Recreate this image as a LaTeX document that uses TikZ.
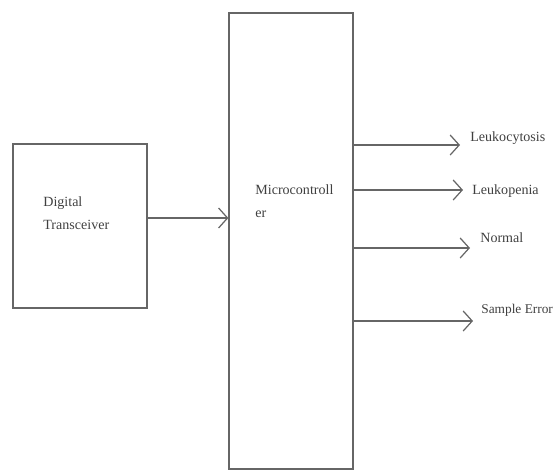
\documentclass[tikz,border=0pt]{standalone}
\usepackage{fontspec}
\setmainfont{Liberation Serif}
\usetikzlibrary{arrows.meta,positioning}

\begin{document}
\begin{tikzpicture}[font=\fontsize{8}{13}\selectfont,
  blk/.style={draw=black!60, line width=0.7pt, inner sep=0pt},
  lbl/.style={text=black!75, anchor=west, inner sep=0pt},
  sig/.style={draw=black!60, line width=0.7pt, -{Straight Barb[length=1.8mm,width=4mm]}}]
\useasboundingbox (0,0) rectangle (11.14,9.4);
\node[blk, minimum width=2.68cm, minimum height=3.28cm] (dt) at (1.60, 4.88) {};
\node[blk, minimum width=2.48cm, minimum height=9.12cm] (mc) at (5.82, 4.58) {};
\node[lbl, align=left] (dttxt) at (0.86, 5.14) {Digital\\Transceiver};
\node[lbl, align=left] (mctxt) at (5.10, 5.38) {Microcontroll\\er};
\coordinate (in) at (0, 5.04);
\draw[sig] (dt.east |- in) -- (mc.west |- in);
% outputs
\node[lbl] (leuc) at (9.40, 6.64) {Leukocytosis};
\node[lbl] (leup) at (9.44, 5.58) {Leukopenia};
\node[lbl] (norm) at (9.60, 4.64) {Normal};
\node[lbl, font=\fontsize{7.6}{10}\selectfont] (serr) at (9.62, 3.20) {Sample Error};
\coordinate (o1) at (9.20, 6.50);
\coordinate (o2) at (9.26, 5.60);
\coordinate (o3) at (9.40, 4.44);
\coordinate (o4) at (9.46, 2.98);
\draw[sig] (mc.east |- o1) -- (o1);
\draw[sig] (mc.east |- o2) -- (o2);
\draw[sig] (mc.east |- o3) -- (o3);
\draw[sig] (mc.east |- o4) -- (o4);
\end{tikzpicture}
\end{document}
